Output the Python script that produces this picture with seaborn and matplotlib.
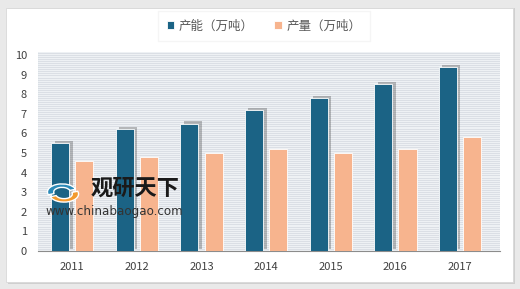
import matplotlib
matplotlib.use("Agg")
import matplotlib.pyplot as plt
import matplotlib.patches as mpatches
import matplotlib.patheffects as pe
import seaborn as sns
import pandas as pd

years = ["2011", "2012", "2013", "2014", "2015", "2016", "2017"]
capacity = [5.5, 6.2, 6.5, 7.2, 7.8, 8.5, 9.4]
output = [4.6, 4.8, 5.0, 5.2, 5.0, 5.2, 5.8]
series_names = ["产能（万吨）", "产量（万吨）"]
y_ticks = [0, 1, 2, 3, 4, 5, 6, 7, 8, 9, 10]

df = pd.DataFrame({
    "year": years * 2,
    "value": capacity + output,
    "series": [series_names[0]] * len(years) + [series_names[1]] * len(years),
})

sns.set_theme(style="white")
plt.rcParams["font.family"] = ["Noto Sans CJK SC", "DejaVu Sans"]

fig = plt.figure(figsize=(5.2, 2.89), dpi=100, facecolor="#e9e9e9")
# white panel with soft shadow
fig.patches.append(mpatches.Rectangle((8 / 520, 1 - 284 / 289), 507 / 520, 276 / 289,
                                      transform=fig.transFigure, facecolor="#cfcfcf",
                                      edgecolor="none", zorder=-3))
fig.patches.append(mpatches.Rectangle((6 / 520, 1 - 282 / 289), 507 / 520, 274 / 289,
                                      transform=fig.transFigure, facecolor="white",
                                      edgecolor="#d8d8d8", lw=0.6, zorder=-2))

ax = fig.add_axes([38 / 520, 1 - 251 / 289, 462 / 520, 199 / 289])
ax.set_facecolor("#d9dfe5")
# striped background
for k in range(0, 102):
    ax.axhline(k * 0.1 + 0.05, color="#eef1f4", lw=0.8, zorder=0)

palette = {series_names[0]: "#1b6385", series_names[1]: "#f7b48e"}
sns.barplot(data=df, x="year", y="value", hue="series", palette=palette,
            width=0.75, gap=0.25, saturation=1, edgecolor="white", linewidth=0.6,
            ax=ax, zorder=3)

ax.set_xlim(-0.53, 6.62)
ax.set_ylim(0, 10.15)
ax.set_yticks(y_ticks)
ax.set_yticklabels([str(t) for t in y_ticks], fontsize=8, color="#404040")
ax.tick_params(axis="x", labelsize=8, colors="#404040", length=0, pad=8)
ax.tick_params(axis="y", length=0, pad=8)
ax.set_xlabel("")
ax.set_ylabel("")
for s in ["top", "right", "left"]:
    ax.spines[s].set_visible(False)
ax.spines["bottom"].set_color("#8c8c8c")
ax.spines["bottom"].set_linewidth(0.8)

leg = ax.legend(loc="center", bbox_to_anchor=(264 / 520, 1 - 26 / 289), bbox_transform=fig.transFigure,
                ncol=2, frameon=True, fontsize=9, handlelength=0.6, handleheight=0.6,
                handletextpad=0.4, columnspacing=1.6, borderpad=0.7, fancybox=False)
leg.get_frame().set_edgecolor("#f3f3f3")
leg.get_frame().set_facecolor("white")
leg.set_zorder(10)
for t in leg.get_texts():
    t.set_color("#595959")

# soft shadow on capacity bars
for p in ax.patches:
    fc = p.get_facecolor()
    if fc[0] < 0.3 and fc[2] > 0.45:
        p.set_path_effects([pe.SimplePatchShadow(offset=(2.5, 1.5), shadow_rgbFace="#333333", alpha=0.3),
                            pe.Normal()])

# watermark
fig.text(91 / 520, 1 - 188 / 289, "观研天下", fontsize=16, fontweight="bold", color="#1a1a1a",
         va="center", ha="left", zorder=20)
fig.text(45 / 520, 1 - 211 / 289, "www.chinabaogao.com", fontsize=8.6, color="#333333",
         va="center", ha="left", zorder=20, family=["DejaVu Sans"])
fig.patches.append(mpatches.Wedge((62 / 520, 1 - 192 / 289), 0.028, 20, 200, width=0.012,
                                  transform=fig.transFigure, facecolor="#2b8ab8", zorder=20))
fig.patches.append(mpatches.Wedge((64 / 520, 1 - 194 / 289), 0.028, 200, 380, width=0.012,
                                  transform=fig.transFigure, facecolor="#f39a2e", zorder=20))

fig.savefig("out.png", dpi=100, facecolor=fig.get_facecolor())
